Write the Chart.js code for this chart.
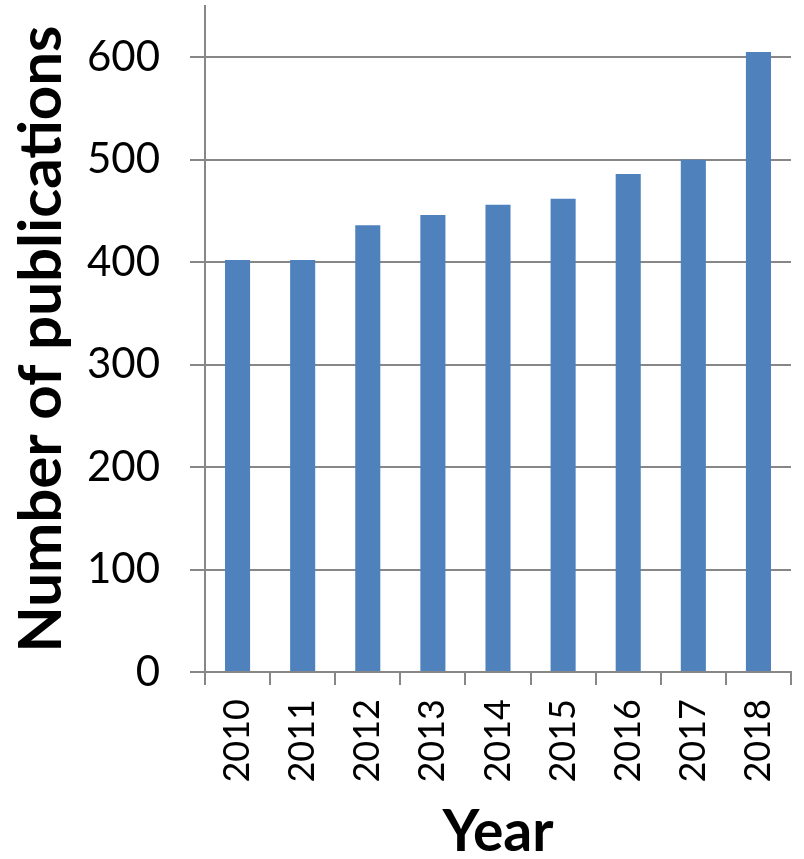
<!DOCTYPE html>
<html>
<head>
<meta charset="utf-8">
<script src="https://cdn.jsdelivr.net/npm/chart.js@4/dist/chart.umd.min.js"></script>
<style>
  html, body { margin: 0; padding: 0; background: #ffffff; }
  #wrap { width: 804px; height: 859px; }
</style>
</head>
<body>
<div id="wrap"><canvas id="c" width="804" height="859"></canvas></div>
<script>
// Yearly publication counts
const years = ['2010', '2011', '2012', '2013', '2014', '2015', '2016', '2017', '2018'];
const publications = [402, 402, 436, 446, 456, 462, 486, 500, 605];
const yTickValues = [0, 100, 200, 300, 400, 500, 600];

const axisGrey = '#878787';
const fontFamily = 'Lato, "Open Sans", sans-serif';

new Chart(document.getElementById('c'), {
  type: 'bar',
  data: {
    labels: years,
    datasets: [{
      data: publications,
      backgroundColor: '#4F81BD',
      borderWidth: 0,
      categoryPercentage: 1,
      barPercentage: 0.385
    }]
  },
  options: {
    responsive: false,
    animation: false,
    layout: { padding: { top: 6, right: 13, left: 0, bottom: 0 } },
    plugins: { legend: { display: false }, tooltip: { enabled: false } },
    scales: {
      x: {
        grid: {
          drawOnChartArea: false,
          drawTicks: true,
          tickLength: 13,
          color: axisGrey,
          lineWidth: 2,
          offset: true
        },
        border: { color: axisGrey, width: 2 },
        ticks: {
          color: '#000',
          font: { family: fontFamily, size: 36 },
          minRotation: 90,
          maxRotation: 90,
          padding: 14,
          autoSkip: false
        },
        title: {
          display: true,
          text: 'Year',
          color: '#000',
          font: { family: fontFamily, size: 57, weight: 'bold' },
          padding: { top: 0, bottom: -8 }
        },
        afterFit: (scale) => {
          scale.height = 187;
          scale.paddingLeft = 0;
          scale.paddingRight = 0;
        }
      },
      y: {
        min: 0,
        max: 650,
        grid: {
          color: axisGrey,
          lineWidth: 2,
          tickLength: 15
        },
        border: { color: axisGrey, width: 2 },
        ticks: {
          color: '#000',
          font: { family: fontFamily, size: 42 },
          padding: 30
        },
        afterBuildTicks: (scale) => {
          scale.ticks = yTickValues.map(v => ({ value: v }));
        },
        title: {
          display: true,
          text: 'Number of publications',
          color: '#000',
          font: { family: fontFamily, size: 60, weight: 'bold' },
          padding: { top: 6, bottom: 0 }
        },
        afterFit: (scale) => {
          scale.width = 205;
          scale.paddingTop = 0;
          scale.paddingBottom = 0;
        }
      }
    }
  }
});
</script>
</body>
</html>
